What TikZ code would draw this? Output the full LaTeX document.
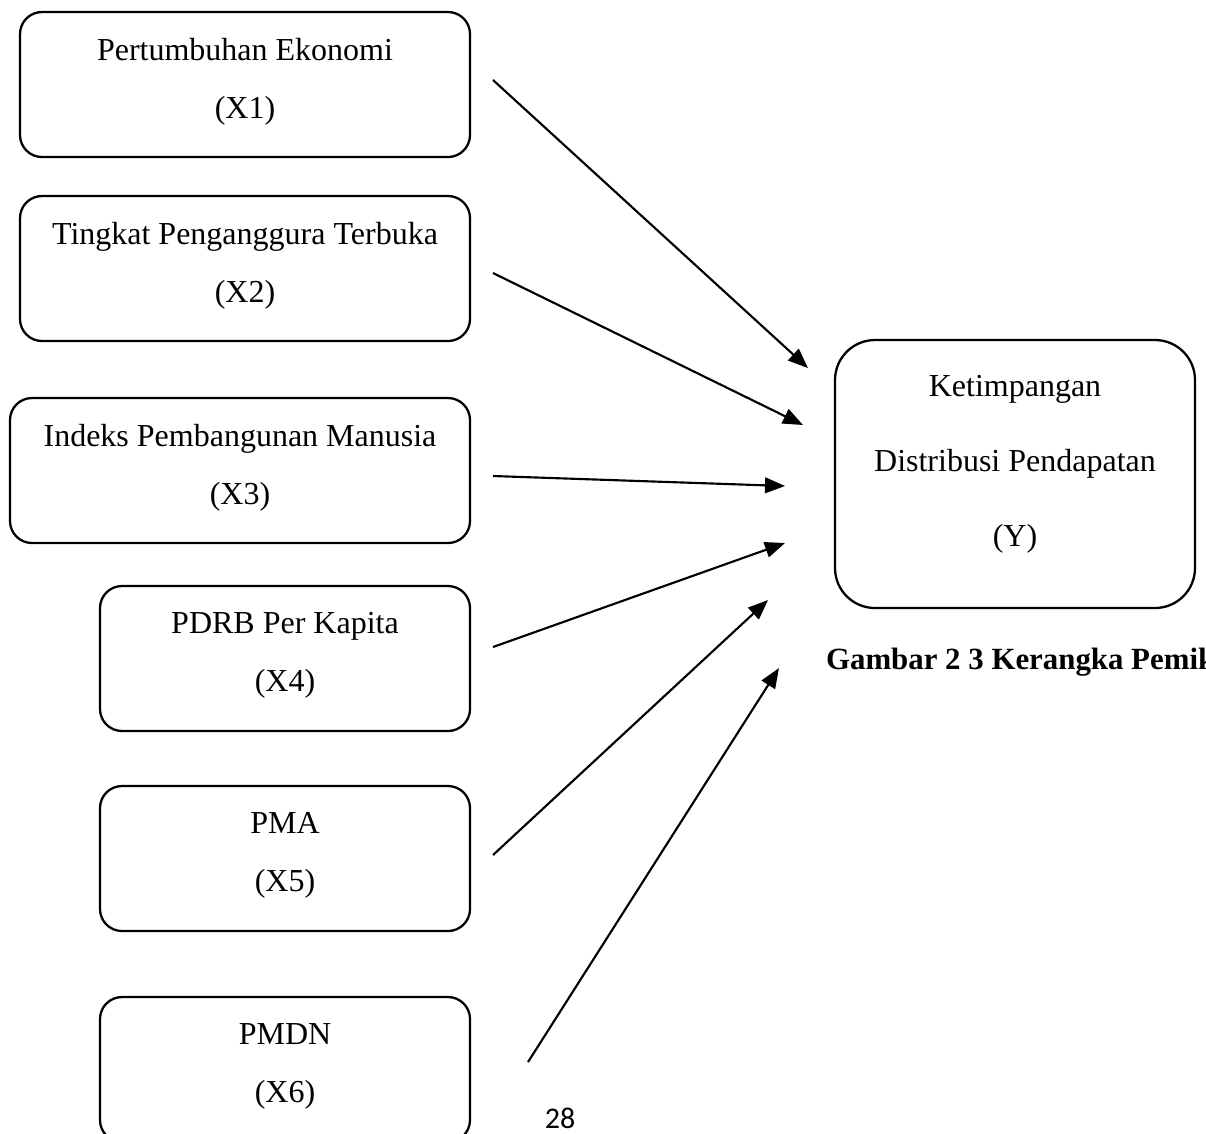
\documentclass[tikz,border=0pt]{standalone}
\usepackage{fontspec}
\setmainfont{Liberation Serif}
\newfontfamily\pagefont{Carlito}
\usetikzlibrary{arrows.meta,positioning}

\tikzset{
  varbox/.style 2 args={draw=black, line width=0.8pt, rounded corners=7.7pt,
    minimum width=#1*0.35pt, minimum height=#2*0.35pt, inner sep=0pt,
    align=center, font=\fontsize{11.2}{20.3}\selectfont, text depth=4.6pt},
  ybox/.style={draw=black, line width=0.8pt, rounded corners=14pt,
    minimum width=360*0.35pt, minimum height=268*0.35pt, inner sep=0pt,
    align=center, font=\fontsize{11.2}{26.2}\selectfont, text depth=9.4pt},
  arr/.style={-{Triangle[length=7pt,width=5.5pt]}, line width=0.75pt}
}

\begin{document}
\begin{tikzpicture}[x=0.35pt, y=-0.35pt]
    \useasboundingbox (0,0) rectangle (1206,1133);
    % independent variables
    \node[varbox={450}{145}] (x1) at (245,84.5) {Pertumbuhan Ekonomi\\(X1)};
    \node[varbox={450}{145}] (x2) at (245,268.5) {Tingkat Penganggura Terbuka\\(X2)};
    \node[varbox={460}{145}] (x3) at (240,470.5) {Indeks Pembangunan Manusia\\(X3)};
    \node[varbox={370}{145}] (x4) at (285,658.5) {PDRB Per Kapita\\(X4)};
    \node[varbox={370}{145}] (x5) at (285,858.5) {PMA\\(X5)};
    \node[varbox={370}{145}] (x6) at (285,1069.5) {PMDN\\(X6)};
    % dependent variable
    \node[ybox] (y) at (1015,474) {Ketimpangan\\Distribusi Pendapatan\\(Y)};
    \node[anchor=base west, font=\bfseries\fontsize{10.8}{14}\selectfont] (cap) at (816,669) {Gambar 2 3 Kerangka Pemikiran};
    \node[font=\pagefont\fontsize{10.5}{13}\selectfont] (pg) at (560,1118) {28};
    % arrow ends
    \coordinate (s1) at (493,80);   \coordinate (t1) at (808,368);
    \coordinate (s2) at (493,273);  \coordinate (t2) at (803,425);
    \coordinate (s3) at (493,476);  \coordinate (t3) at (785,486);
    \coordinate (s4) at (493,647);  \coordinate (t4) at (785,543);
    \coordinate (s5) at (493,855);  \coordinate (t5) at (768,600);
    \coordinate (s6) at (528,1062); \coordinate (t6) at (779,668);
    \foreach \i in {1,...,6}
        \draw[arr] (s\i) -- (t\i);
\end{tikzpicture}
\end{document}
